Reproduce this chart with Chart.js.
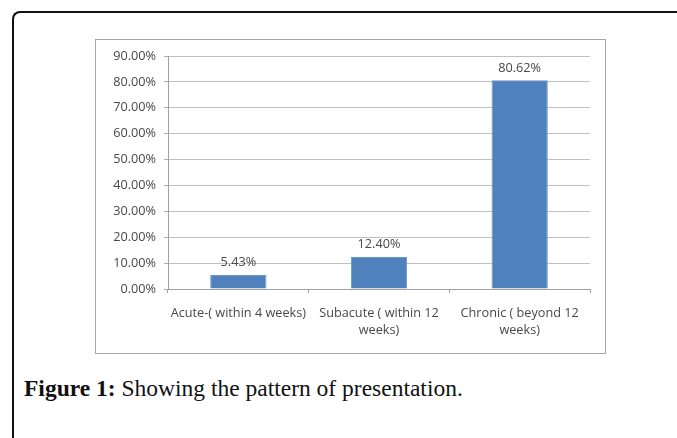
<!DOCTYPE html>
<html>
<head>
<meta charset="utf-8">
<script src="https://cdn.jsdelivr.net/npm/chart.js@4.4.1/dist/chart.umd.min.js"></script>
<style>
  body { margin: 0; background: #fff; width: 677px; height: 438px; overflow: hidden; position: relative; }
  #frame { position: absolute; left: 12px; top: 11px; width: 700px; height: 500px;
           border-left: 2px solid #111; border-top: 2px solid #111; border-top-left-radius: 8px; }
  #box { position: absolute; left: 95px; top: 39px; width: 509px; height: 313px; border: 1px solid #a6a6a6; }
  #box canvas { display: block; }
  #caption { position: absolute; left: 24px; top: 375px; font-family: "Liberation Serif", serif;
             font-size: 23.5px; color: #111; white-space: nowrap; }
  #caption b { font-weight: bold; }
</style>
</head>
<body>
<div id="frame"></div>
<div id="box"><canvas id="chart" width="509" height="313"></canvas></div>
<div id="caption"><b>Figure 1:</b> Showing the pattern of presentation.</div>
<script>
// --- DATA ---
const categories = [
    ['Acute-( within 4 weeks)'],
    ['Subacute ( within 12', 'weeks)'],
    ['Chronic ( beyond 12', 'weeks)']
];
const percentValues = [5.43, 12.40, 80.62];
const yTickMax = 90;
const yTickStep = 10;

const textColor = '#484848';
const fontFamily = '"Open Sans", "Noto Sans", sans-serif';
const fontSize = 12.7;

// labels above each bar
const barLabels = {
    id: 'barLabels',
    afterDatasetsDraw(chart) {
        const c = chart.ctx;
        const meta = chart.getDatasetMeta(0);
        c.save();
        c.font = fontSize + 'px ' + fontFamily;
        c.fillStyle = textColor;
        c.textAlign = 'center';
        c.textBaseline = 'bottom';
        meta.data.forEach((bar, i) => {
            c.fillText(percentValues[i].toFixed(2) + '%', bar.x, bar.y - 6);
        });
        c.restore();
    }
};

const ctx = document.getElementById('chart').getContext('2d');
new Chart(ctx, {
    type: 'bar',
    data: {
        labels: categories,
        datasets: [{
            data: percentValues,
            backgroundColor: '#4f81bd',
            borderColor: '#6a95c9',
            borderWidth: 1,
            categoryPercentage: 1.0,
            barPercentage: 0.4
        }]
    },
    options: {
        responsive: false,
        animation: false,
        layout: { padding: { left: 0, right: 15, top: 16, bottom: 0 } },
        plugins: { legend: { display: false }, tooltip: { enabled: false } },
        scales: {
            y: {
                min: 0, max: yTickMax,
                afterFit(scale) { scale.width = 72; },
                ticks: {
                    stepSize: yTickStep,
                    color: textColor,
                    padding: 8,
                    font: { family: fontFamily, size: fontSize },
                    callback: v => v.toFixed(2) + '%'
                },
                grid: { color: '#c0c0c0', tickLength: 4, tickColor: '#b0b0b0' },
                border: { color: '#a0a0a0' }
            },
            x: {
                afterFit(scale) { scale.height = 64; },
                ticks: {
                    color: textColor,
                    padding: 12,
                    maxRotation: 0,
                    autoSkip: false,
                    font: { family: fontFamily, size: fontSize, lineHeight: 1.32 }
                },
                grid: { offset: true, drawOnChartArea: false, tickLength: 4, color: '#a0a0a0' },
                border: { color: '#a0a0a0' }
            }
        }
    },
    plugins: [barLabels]
});
</script>
</body>
</html>
